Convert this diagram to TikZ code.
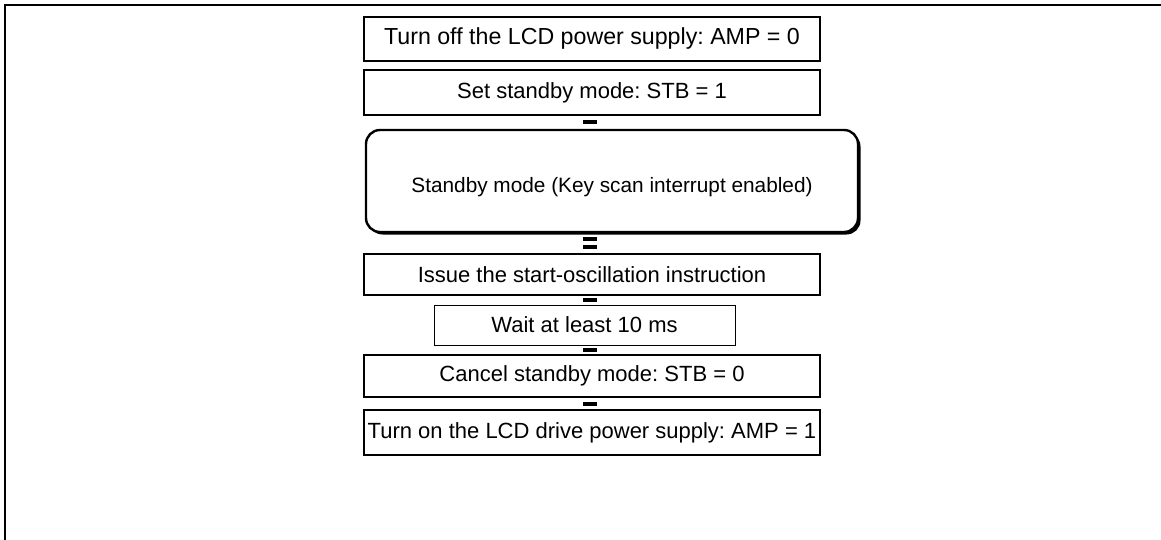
\documentclass[tikz,border=0pt]{standalone}
\usepackage{fontspec}
\setmainfont{Liberation Sans}
\usetikzlibrary{calc}
\frenchspacing

\begin{document}
\begin{tikzpicture}[x=1pt, y=-1pt,
    stage/.style={draw, line width=1.8pt, minimum width=456pt, minimum height=44pt, inner sep=0pt, font=\fontsize{22}{26}\selectfont},
    waitbox/.style={stage, line width=1pt, minimum width=301pt, minimum height=40pt},
    modebox/.style={stage, line width=2.4pt, rounded corners=14pt, minimum width=492pt, minimum height=102pt},
    joint/.style={fill=black, minimum width=14pt, minimum height=4pt, inner sep=0pt},
]
    \useasboundingbox (0,0) rectangle (1161,540);

    % Outer frame (top and left only)
    \draw[line width=2pt] (5,540) -- (5,5) -- (1161,5);

    % Flow steps
    \node[stage, font=\fontsize{23.2}{27}\selectfont] (ampoff) at (592,39) {Turn off the LCD power supply: AMP = 0};
    \node[stage, minimum height=45pt] (stbset) at (592,92.5) {Set standby mode: STB = 1};
    \fill (614.5,183.5) ++(-246,-51) [rounded corners=14pt] rectangle ++(492,102);
    \node[modebox, fill=white, font=\fontsize{20.8}{25}\selectfont, text height=28pt, text depth=4pt] (standby) at (612,181) {Standby mode (Key scan interrupt enabled)};
    \node[stage, minimum height=41pt] (oscstart) at (592,274.5) {Issue the start-oscillation instruction};
    \node[waitbox] (wait) at (584.5,325) {Wait at least 10 ms};
    \node[stage, minimum height=42pt] (stbclr) at (592,376) {Cancel standby mode: STB = 0};
    \node[stage, minimum height=45pt] (ampon) at (592,432.5) {Turn on the LCD drive power supply: AMP = 1};

    % Connectors
    \path (stbset.south -| 590,0) -- node[joint] {} (standby.north -| 590,0);
    \path (standby.south -| 590,0) -- node[joint, pos=0.3] {} node[joint, pos=0.68] {} (oscstart.north -| 590,0);
    \path (oscstart.south -| 590,0) -- node[joint] {} (wait.north -| 590,0);
    \path (wait.south -| 590,0) -- node[joint] {} (stbclr.north -| 590,0);
    \path (stbclr.south -| 590,0) -- node[joint] {} (ampon.north -| 590,0);
\end{tikzpicture}
\end{document}
